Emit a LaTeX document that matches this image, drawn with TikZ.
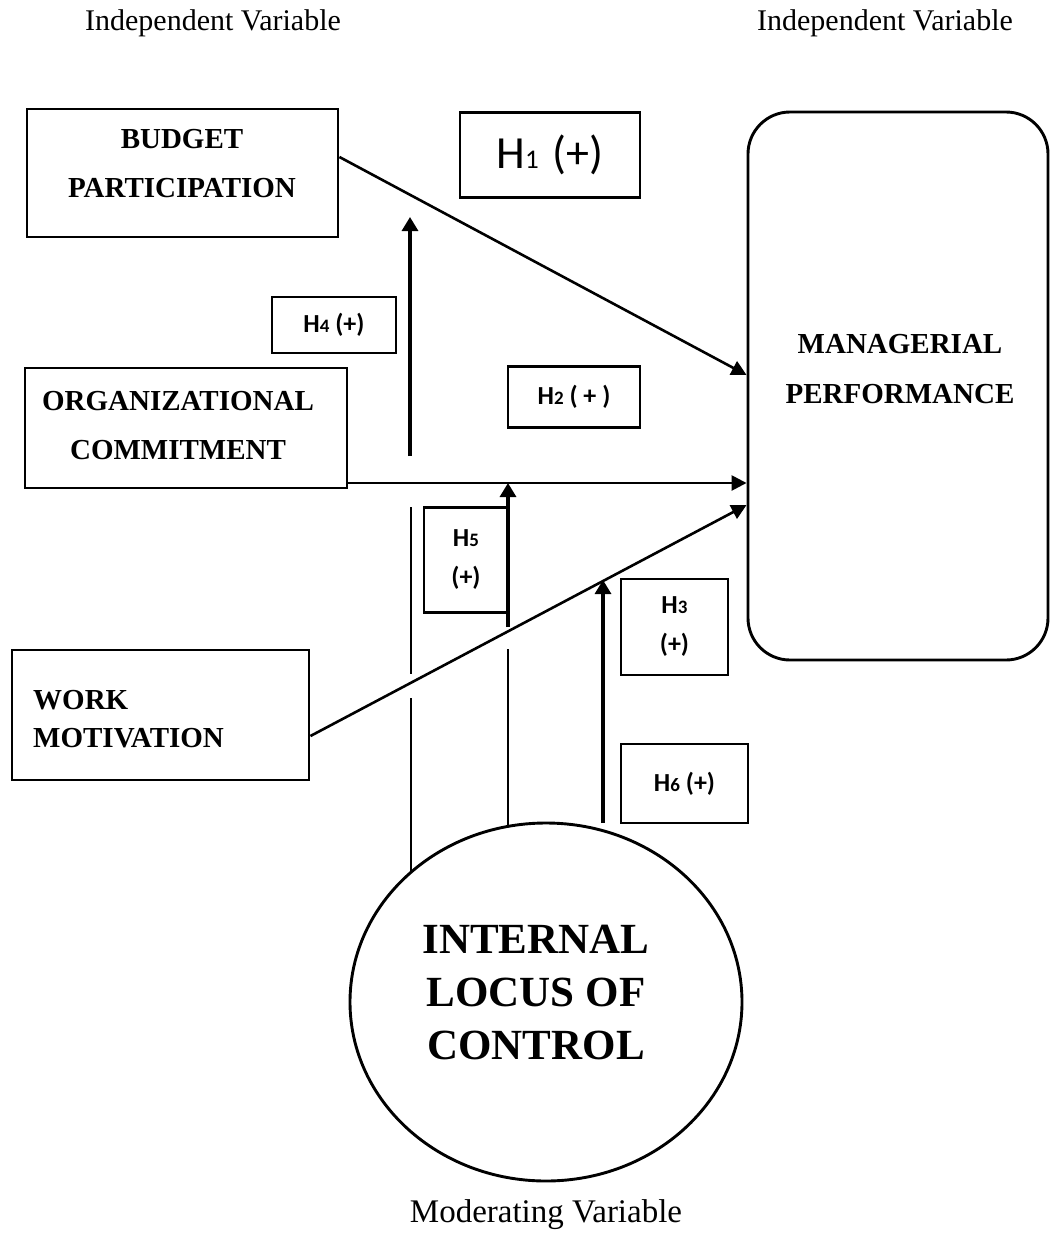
\documentclass[tikz,border=0pt]{standalone}
\usepackage{fontspec}
\setmainfont{Liberation Serif}
\newfontfamily\calib{Carlito}
\usetikzlibrary{arrows.meta}
\newcommand\hsub[1]{{\fontsize{19}{19}\selectfont #1}}
\begin{document}
\begin{tikzpicture}[x=1pt,y=-1pt,
  mainbox/.style={draw, line width=2.9pt, inner sep=0pt},
  hbox/.style={draw, line width=2.6pt, inner sep=0pt, align=center,
    font=\calib\bfseries\fontsize{26}{39}\selectfont},
  title/.style={font=\bfseries\fontsize{29}{49}\selectfont, align=center, inner sep=0pt},
  plain/.style={font=\fontsize{30}{36}\selectfont, inner sep=0pt},
  conn/.style={line width=2.6pt, -{Triangle[length=15pt,width=15pt]}},
  modarrow/.style={line width=3.2pt, -{Triangle[length=14pt,width=16pt]}},
  thin/.style={line width=1.3pt}]
\clip (0,0) rectangle (1050,1234);

% labels
\node[plain] (iv1) at (213,23) {Independent Variable};
\node[plain] (iv2) at (885,23) {Independent Variable};
\node[font=\fontsize{33}{40}\selectfont, inner sep=0pt] (mv) at (546,1215) {Moderating Variable};

% main boxes
\node[mainbox, minimum width=311pt, minimum height=128pt] (bp) at (182.5,173) {};
\node[title] (bpt) at (182,164) {BUDGET\\PARTICIPATION};
\node[mainbox, minimum width=322pt, minimum height=120pt] (oc) at (186,428) {};
\node[title] (oct) at (178,426) {ORGANIZATIONAL\\COMMITMENT};
\node[mainbox, minimum width=297pt, minimum height=130pt] (wm) at (160.5,715) {};
\node[title, font=\bfseries\fontsize{29}{38}\selectfont, align=left, anchor=west] (wmt) at (33,719) {WORK\\MOTIVATION};
\node[mainbox, rounded corners=42pt, minimum width=300pt, minimum height=548pt] (mp) at (898,386) {};
\node[title, font=\bfseries\fontsize{29}{50}\selectfont] (mpt) at (900,369) {MANAGERIAL\\PERFORMANCE};

% moderator ellipse
\draw[line width=2.9pt] (546,1002) ellipse [x radius=196pt, y radius=179pt];
\node[title, font=\bfseries\fontsize{43}{53}\selectfont] (ilc) at (536,993) {INTERNAL\\LOCUS OF\\CONTROL};

% hypothesis boxes
\node[hbox, minimum width=180pt, minimum height=85pt, font=\calib\fontsize{46}{46}\selectfont] (h1) at (550,155) {H{\fontsize{27}{27}\selectfont 1}\hspace{14pt}(+)};
\node[hbox, minimum width=124pt, minimum height=56pt] (h4) at (334,325) {H\hsub{4} (+)};
\node[hbox, minimum width=132pt, minimum height=61pt] (h2) at (574,397) {H\hsub{2} ( + )};
\node[hbox, minimum width=84pt, minimum height=105pt] (h5) at (466,560) {H\hsub{5}\\(+)};
\node[hbox, minimum width=107pt, minimum height=96pt] (h3) at (674.5,627) {H\hsub{3}\\(+)};
\node[hbox, minimum width=127pt, minimum height=79pt] (h6) at (684.5,783.5) {H\hsub{6} (+)};

% main connectors
\draw[conn] ([yshift=16pt]bp.east) -- ([yshift=11pt]mp.west);
\draw[conn] ([yshift=-55pt]oc.east) -- ([yshift=-97pt]mp.west);
\draw[conn] ([yshift=-21pt]wm.east) -- ([yshift=-119pt]mp.west);

% moderating arrows
\coordinate (a4s) at (410,456);
\coordinate (a4e) at (410,217);
\draw[modarrow] (a4s) -- (a4e);
\coordinate (a5s) at (508,627);
\coordinate (a5e) at (508,483);
\draw[modarrow] (a5s) -- (a5e);
\coordinate (a3s) at (603,823);
\coordinate (a3e) at (603,580);
\draw[modarrow] (a3s) -- (a3e);

% thin lines from moderator
\coordinate (t1a) at (411,507);
\coordinate (t1b) at (411,674);
\coordinate (t1c) at (411,698);
\coordinate (t1d) at (411,872);
\draw[thin] (t1a) -- (t1b);
\draw[thin] (t1c) -- (t1d);
\coordinate (t2a) at (508,649);
\coordinate (t2b) at (508,825);
\draw[thin] (t2a) -- (t2b);
\end{tikzpicture}
\end{document}
